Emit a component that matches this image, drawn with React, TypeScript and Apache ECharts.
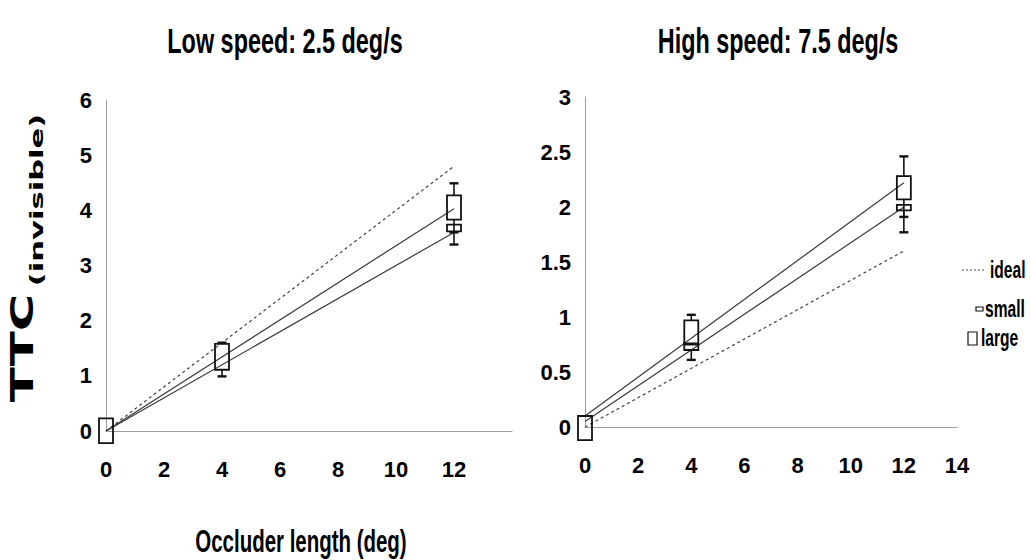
import React, { useEffect, useRef } from 'react';
import * as echarts from 'echarts';

// Occluder lengths (deg) where TTC was measured
const boxX = [0, 4, 12];
// End points of the straight fit lines
const fitX = [0, 12];

// Low speed (2.5 deg/s): fitted lines
const lowIdeal = [0, 4.8];
const lowLargeFit = [0, 4.03];
const lowSmallFit = [0, 3.6];
// High speed (7.5 deg/s): fitted lines
const highIdeal = [0, 1.6];
const highLargeFit = [0.1, 2.22];
const highSmallFit = [0.05, 2.0];

// Box rows: [whisker low, box low, box high, whisker high], one per boxX entry (null = none)
const lowLargeBox = [
  [-0.22, -0.22, 0.23, 0.23],
  [0.99, 1.11, 1.58, 1.6],
  [3.6, 3.83, 4.27, 4.49],
];
const lowSmallBox = [null, null, [3.38, 3.62, 3.74, 3.74]];
const highLargeBox = [
  [-0.12, -0.12, 0.1, 0.1],
  [0.75, 0.75, 0.97, 1.02],
  [1.91, 2.07, 2.28, 2.46],
];
const highSmallBox = [null, [0.61, 0.7, 0.76, 0.76], [1.77, 1.97, 2.02, 2.02]];

const xTicks = [0, 2, 4, 6, 8, 10, 12, 14];
const lowYMax = 6;
const highYMax = 3;

const titles = ['Low speed: 2.5 deg/s', 'High speed: 7.5 deg/s'];
const legendNames = ['ideal', 'small', 'large'];

const FONT = "'Liberation Sans', Arial, sans-serif";

const pair = (xs: number[], ys: number[]) => xs.map((x, i) => [x, ys[i]]);
const boxRows = (rows: (number[] | null)[]) =>
  rows
    .map((r, i) => (r ? [boxX[i], ...r] : null))
    .filter((r) => r !== null) as number[][];

const renderBox = (params: any, api: any) => {
  const x = api.value(0);
  const wl = api.value(1);
  const bl = api.value(2);
  const bh = api.value(3);
  const wh = api.value(4);
  const pWL = api.coord([x, wl]);
  const pBL = api.coord([x, bl]);
  const pBH = api.coord([x, bh]);
  const pWH = api.coord([x, wh]);
  const cx = pBL[0];
  const w = 14;
  const cap = 9;
  const stroke = '#111';
  const children: any[] = [];
  if (wh > bh) {
    children.push({
      type: 'line',
      shape: { x1: cx, y1: pBH[1], x2: cx, y2: pWH[1] },
      style: { stroke, lineWidth: 1.6 },
    });
    children.push({
      type: 'line',
      shape: { x1: cx - cap / 2, y1: pWH[1], x2: cx + cap / 2, y2: pWH[1] },
      style: { stroke, lineWidth: 2.4 },
    });
  }
  if (wl < bl) {
    children.push({
      type: 'line',
      shape: { x1: cx, y1: pBL[1], x2: cx, y2: pWL[1] },
      style: { stroke, lineWidth: 1.6 },
    });
    children.push({
      type: 'line',
      shape: { x1: cx - cap / 2, y1: pWL[1], x2: cx + cap / 2, y2: pWL[1] },
      style: { stroke, lineWidth: 2.4 },
    });
  }
  children.push({
    type: 'rect',
    shape: { x: cx - w / 2, y: pBH[1], width: w, height: pBL[1] - pBH[1] },
    style: { fill: 'none', stroke, lineWidth: 1.8 },
  });
  return { type: 'group', children };
};

const lineSeries = (name: string, idx: number, ys: number[], dashed: boolean) => ({
  name,
  type: 'line',
  xAxisIndex: idx,
  yAxisIndex: idx,
  data: pair(fitX, ys),
  showSymbol: false,
  symbol: 'none',
  lineStyle: {
    color: dashed ? '#444' : '#3a3a3a',
    width: 1.2,
    type: dashed ? [3, 3] : 'solid',
  },
  z: 3,
});

const boxSeries = (name: string, idx: number, rows: (number[] | null)[]) => ({
  name,
  type: 'custom',
  xAxisIndex: idx,
  yAxisIndex: idx,
  data: boxRows(rows),
  encode: { x: 0, y: [1, 2, 3, 4] },
  renderItem: renderBox,
  clip: false,
  z: 4,
});

const axisLabelStyle = {
  color: '#000',
  fontFamily: FONT,
  fontWeight: 'bold' as const,
  fontSize: 22,
};

const xAxisFor = (idx: number, hideLast: boolean) => ({
  type: 'value',
  gridIndex: idx,
  min: xTicks[0],
  max: xTicks[xTicks.length - 1],
  interval: 2,
  axisLine: { show: true, onZero: false, lineStyle: { color: '#a0a0a0', width: 1 } },
  axisTick: { show: false },
  splitLine: { show: false },
  axisLabel: {
    ...axisLabelStyle,
    margin: 27,
    formatter: (v: number) => (hideLast && v === 14 ? '' : String(v)),
  },
});

const yAxisFor = (idx: number, max: number, interval: number) => ({
  type: 'value',
  gridIndex: idx,
  min: 0,
  max,
  interval,
  axisLine: { show: true, lineStyle: { color: '#a0a0a0', width: 1 } },
  axisTick: { show: false },
  splitLine: { show: false },
  axisLabel: { ...axisLabelStyle, margin: 14 },
});

const condensedText = (
  text: string,
  x: number,
  y: number,
  size: number,
  scaleX: number,
  align: string = 'center'
) => ({
  type: 'text',
  x,
  y,
  scaleX,
  style: {
    text,
    fontFamily: FONT,
    fontWeight: 'bold',
    fontSize: size,
    fill: '#000',
    align,
    textAlign: align,
    verticalAlign: 'middle',
    textVerticalAlign: 'middle',
  },
});

const option = {
  backgroundColor: '#fff',
  animation: false,
  grid: [
    { left: 106, top: 100, width: 406, height: 331 },
    { left: 585, top: 97, width: 372, height: 330 },
  ],
  xAxis: [xAxisFor(0, true), xAxisFor(1, false)],
  yAxis: [yAxisFor(0, lowYMax, 1), yAxisFor(1, highYMax, 0.5)],
  series: [
    lineSeries('ideal', 0, lowIdeal, true),
    lineSeries('large fit', 0, lowLargeFit, false),
    lineSeries('small fit', 0, lowSmallFit, false),
    boxSeries('large', 0, lowLargeBox),
    boxSeries('small', 0, lowSmallBox),
    lineSeries('ideal', 1, highIdeal, true),
    lineSeries('large fit', 1, highLargeFit, false),
    lineSeries('small fit', 1, highSmallFit, false),
    boxSeries('large', 1, highLargeBox),
    boxSeries('small', 1, highSmallBox),
  ],
  graphic: [
    condensedText(titles[0], 285, 41, 36, 0.65),
    condensedText(titles[1], 778, 41, 36, 0.65),
    condensedText('Occluder length (deg)', 301, 541, 31, 0.66),
    // vertical axis title: TTC with subscript
    {
      type: 'text',
      x: 22,
      y: 348,
      rotation: Math.PI / 2,
      scaleX: 1.6,
      style: {
        text: 'TTC',
        fontFamily: "'DejaVu Sans', sans-serif",
        fontWeight: 'bold',
        fontSize: 32,
        fill: '#000',
        align: 'center',
        textAlign: 'center',
        verticalAlign: 'middle',
        textVerticalAlign: 'middle',
      },
    },
    {
      type: 'text',
      x: 37,
      y: 200,
      rotation: Math.PI / 2,
      scaleX: 1.8,
      style: {
        text: '(invisible)',
        fontFamily: "'DejaVu Sans', sans-serif",
        fontWeight: 'bold',
        fontSize: 17,
        fill: '#000',
        align: 'center',
        textAlign: 'center',
        verticalAlign: 'middle',
        textVerticalAlign: 'middle',
      },
    },
    // legend
    {
      type: 'line',
      shape: { x1: 962, y1: 270, x2: 986, y2: 270 },
      style: { stroke: '#444', lineWidth: 1.2, lineDash: [2, 2] },
    },
    condensedText(legendNames[0], 990, 270, 24, 0.65, 'left'),
    {
      type: 'rect',
      shape: { x: 976, y: 307, width: 7, height: 4 },
      style: { fill: 'none', stroke: '#111', lineWidth: 1.2 },
    },
    condensedText(legendNames[1], 985, 309, 24, 0.65, 'left'),
    {
      type: 'rect',
      shape: { x: 968, y: 332, width: 9, height: 13 },
      style: { fill: 'none', stroke: '#111', lineWidth: 1.2 },
    },
    condensedText(legendNames[2], 981, 338, 24, 0.65, 'left'),
  ],
};

export default function App() {
  const ref = useRef<HTMLDivElement>(null);
  useEffect(() => {
    const chart = echarts.init(ref.current!, null, { renderer: 'svg' });
    chart.setOption(option as any);
    return () => chart.dispose();
  }, []);
  return (
    <div
      ref={ref}
      style={{ position: 'fixed', left: 0, top: 0, width: 1031, height: 560, background: '#fff' }}
    />
  );
}
